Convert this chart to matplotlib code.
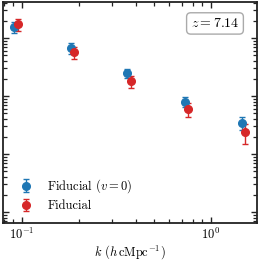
import matplotlib
matplotlib.use('Agg')
import matplotlib.pyplot as plt
from matplotlib.ticker import NullFormatter, LogLocator

plt.rcParams['font.family'] = 'serif'
plt.rcParams['font.serif'] = ['cmr10', 'DejaVu Serif']
plt.rcParams['mathtext.fontset'] = 'cm'
plt.rcParams['axes.formatter.use_mathtext'] = True

# wavenumbers (h/cMpc) and power values
k_bins = [0.0907, 0.181, 0.361, 0.724, 1.45]
k_shift = 1.045

fid_v0 = [1549, 664, 252, 79.8, 34.7]
fid_v0_err = [326, 140, 45, 14.9, 8.3]

fid = [1742, 566, 181, 59.7, 24.2]
fid_err = [415, 135, 43, 15.9, 9.3]

redshift_label = r'$z = 7.14$'
series_labels = [r'Fiducial ($v=0$)', 'Fiducial']

fig = plt.figure(figsize=(2.59, 2.70), dpi=100)
ax = fig.add_axes([3 / 259, 1 - 223 / 270, 254 / 259, 221 / 270])

ax.errorbar(k_bins, fid_v0, yerr=fid_v0_err, fmt='o', color='#1f77b4',
            ms=5.5, capsize=2.5, elinewidth=1.0, capthick=1.0, label=series_labels[0])
ax.errorbar([k * k_shift for k in k_bins], fid, yerr=fid_err, fmt='o', color='#d62728',
            ms=5.5, capsize=2.5, elinewidth=1.0, capthick=1.0, label=series_labels[1])

ax.set_xscale('log')
ax.set_yscale('log')
ax.set_xlim(0.0794, 1.75)
ax.set_ylim(0.646, 4170)

ax.yaxis.set_major_formatter(NullFormatter())
ax.yaxis.set_minor_formatter(NullFormatter())
ax.yaxis.set_minor_locator(LogLocator(base=10, subs=range(2, 10), numticks=20))

ax.tick_params(which='both', direction='in', top=True, right=True, labelsize=9,
               color='#222222', pad=2.5)
ax.tick_params(which='major', length=4, width=1.0)
ax.tick_params(which='minor', length=3, width=0.9)
for s in ax.spines.values():
    s.set_linewidth(1.3)
    s.set_color('#222222')

ax.set_xlabel(r'$k\ (h\,\mathrm{cMpc}^{-1})$', fontsize=9, labelpad=1)

ax.text(0.93, 0.903, redshift_label, transform=ax.transAxes, ha='right', va='center',
        fontsize=10, bbox=dict(boxstyle='round,pad=0.3', fc='white', ec='#aaaaaa', lw=1.0))

ax.legend(loc='lower left', frameon=False, fontsize=9, handletextpad=0.7,
          borderaxespad=0.45, labelspacing=0.4)

fig.savefig('out.png', dpi=100)
